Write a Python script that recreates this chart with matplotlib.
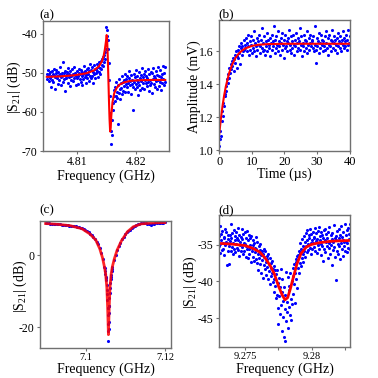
import numpy as np
import matplotlib
matplotlib.use("Agg")
import matplotlib.pyplot as plt

plt.rcParams['font.family'] = ['Liberation Serif', 'DejaVu Serif']
plt.rcParams['mathtext.fontset'] = 'custom'
plt.rcParams['mathtext.rm'] = 'Liberation Serif'
plt.rcParams['mathtext.it'] = 'Liberation Serif:italic'
plt.rcParams['axes.unicode_minus'] = False

BLUE = '#0000ff'
RED = '#ff0000'
FRAME = '#707070'

# ---- (a) Fano-like transmission ----
a_s21 = [
    -50.2, -51.5, -49.3, -50.9, -52.1, -50.4, -49.8, -51.2, -53.6, -50.7,
    -49.5, -51.8, -50.3, -52.4, -48.9, -50.6, -51.1, -54.2, -50.0, -49.2,
    -51.4, -50.8, -52.9, -49.7, -50.5, -51.9, -48.6, -50.2, -53.1, -51.0,
    -49.9, -50.7, -52.3, -47.3, -51.6, -50.1, -49.4, -54.6, -50.9, -51.3,
    -49.8, -50.4, -52.6, -48.8, -51.0, -50.3, -49.6, -53.4, -50.8, -51.7,
    -49.1, -50.5, -52.0, -50.2, -48.4, -51.3, -50.6, -49.9, -53.0, -50.7,
    -51.2, -49.5, -50.9, -52.8, -50.0, -48.9, -51.5, -50.3, -49.2, -52.2,
    -50.8, -53.2, -49.7, -50.4, -51.6, -48.2, -50.1, -51.0, -49.4, -52.5,
    -50.6, -49.0, -51.3, -48.7, -50.2, -52.0, -49.6, -47.8, -50.9, -51.4,
    -49.3, -48.5, -50.7, -52.6, -49.8, -48.1, -50.4, -49.1, -51.2, -48.9,
    -50.0, -47.6, -49.5, -51.1, -48.4, -49.8, -47.2, -50.3, -48.8, -46.9,
    -49.0, -47.9, -46.5, -48.2, -46.0, -47.1, -45.3, -46.4, -44.6, -43.9,
    -38.3, -39.1, -40.6, -41.5, -44.0, -47.5, -51.8, -55.9, -60.2, -64.9,
    -68.3, -65.8, -62.1, -59.5, -57.8, -56.0,
    -54.3, -57.2, -53.6, -55.8, -52.4, -56.5, -54.9, -63.0, -53.1, -55.2,
    -51.6, -54.0, -56.8, -52.7, -53.9, -50.8, -55.4, -52.2, -54.6, -51.9,
    -53.3, -50.4, -55.0, -52.8,
    -51.5, -53.7, -50.9, -52.6, -54.8, -51.2, -49.6, -53.0, -52.1, -55.3,
    -50.5, -52.9, -51.7, -59.4, -53.5, -50.2, -52.4, -54.1, -51.0, -49.3,
    -52.8, -53.6, -50.7, -51.9, -55.6, -52.3, -49.8, -53.2, -51.4, -54.5,
    -50.6, -52.0, -48.7, -53.8, -51.1, -52.7, -50.3, -54.2, -51.8, -49.5,
    -52.5, -50.8, -53.4, -51.3, -49.0, -52.2, -54.7, -50.4, -51.9, -53.1,
    -49.7, -52.6, -50.1, -55.2, -51.5, -48.8, -52.9, -50.7, -53.7, -51.2,
    -49.4, -52.1, -54.0, -50.5, -51.7, -48.5, -53.3, -50.9, -52.4, -49.2,
    -51.0, -54.4, -50.2, -52.7, -48.3, -51.6, -53.0, -49.9, -52.3, -48.6,
]
a_freq = np.linspace(4.8048, 4.8250, len(a_s21))
a_fit_freq = [4.8048, 4.8070, 4.8095, 4.8115, 4.8128, 4.8137, 4.8142, 4.8145,
              4.8147, 4.8149, 4.8150, 4.81505, 4.8151, 4.8152, 4.8153, 4.8154,
              4.8155, 4.8156, 4.8157, 4.8158, 4.8160, 4.8163, 4.8167, 4.8172,
              4.8180, 4.8192, 4.8210, 4.8230, 4.8250]
a_fit_s21 = [-51.0, -50.9, -50.6, -50.1, -49.4, -48.3, -47.0, -45.6,
             -44.0, -41.8, -40.3, -40.5, -42.0, -46.0, -51.5, -57.0,
             -61.8, -65.0, -64.0, -61.0, -57.5, -55.2, -53.9, -53.0,
             -52.4, -52.0, -51.85, -51.8, -51.8]

# ---- (b) ring-up amplitude ----
b_amp = [
    1.03, 1.07, 1.12, 1.09, 1.18, 1.24, 1.21, 1.29, 1.27, 1.34,
    1.33, 1.39, 1.36, 1.43, 1.41, 1.46, 1.44, 1.50, 1.47, 1.52,
    1.49, 1.54, 1.51, 1.56, 1.48, 1.55, 1.58, 1.53, 1.60, 1.57,
    1.50, 1.61, 1.56, 1.63, 1.59, 1.52, 1.62, 1.65, 1.58, 1.63,
    1.60, 1.67, 1.61, 1.64,
    1.62, 1.68, 1.60, 1.65, 1.70, 1.63, 1.58, 1.66, 1.61, 1.69,
    1.64, 1.59, 1.67, 1.62, 1.72, 1.60, 1.65, 1.63, 1.57, 1.68,
    1.61, 1.66, 1.64, 1.70, 1.59, 1.63, 1.67, 1.62, 1.74, 1.60,
    1.65, 1.61, 1.69, 1.58, 1.66, 1.63, 1.71, 1.60, 1.67, 1.64,
    1.62, 1.68, 1.57, 1.65, 1.70, 1.61, 1.66, 1.63, 1.75, 1.59,
    1.67, 1.62, 1.69, 1.64, 1.60, 1.72, 1.63, 1.66, 1.58, 1.68,
    1.65, 1.61, 1.71, 1.64, 1.56, 1.67, 1.62, 1.70, 1.63, 1.66,
    1.60, 1.68, 1.65, 1.73, 1.61, 1.64, 1.69, 1.59, 1.66, 1.62,
    1.70, 1.64, 1.58, 1.67, 1.63, 1.71, 1.60, 1.65, 1.68, 1.62,
    1.66, 1.74, 1.61, 1.64, 1.69, 1.57, 1.65, 1.63, 1.70, 1.60,
    1.67, 1.62, 1.66, 1.72, 1.59, 1.64, 1.68, 1.61, 1.65, 1.70,
    1.63, 1.67, 1.66, 1.62, 1.69, 1.60, 1.75, 1.64, 1.61, 1.53,
    1.68, 1.63, 1.66, 1.71, 1.59, 1.65, 1.62, 1.70, 1.64, 1.67,
    1.60, 1.66, 1.63, 1.69, 1.61, 1.72, 1.65, 1.62, 1.68, 1.58,
    1.64, 1.70, 1.63, 1.67, 1.60, 1.66, 1.73, 1.62, 1.65, 1.69,
    1.61, 1.67, 1.64, 1.59, 1.68, 1.63, 1.71, 1.66, 1.62, 1.69,
    1.65, 1.60, 1.67, 1.64, 1.72, 1.62, 1.68, 1.63, 1.66, 1.70,
    1.61, 1.67, 1.64, 1.73, 1.65, 1.69,
]
b_time = np.linspace(0, 40, len(b_amp))
b_fit_time = [0, 0.5, 1, 1.5, 2, 3, 4, 5, 6, 7, 8, 10, 12, 15, 20, 30, 40]
b_fit_amp = [1.100, 1.192, 1.269, 1.332, 1.385, 1.466, 1.521, 1.560, 1.586,
             1.604, 1.617, 1.632, 1.639, 1.643, 1.645, 1.645, 1.645]

# ---- (c) deep notch ----
c_s21_sweep = [
    8.85, 8.80, 8.82, 8.74, 8.72, 8.70, 8.64, 8.63, 8.57, 8.55,
    8.48, 8.45, 8.38, 8.35, 8.27, 8.24, 8.17, 8.14, 8.05, 7.98,
    7.84, 7.75, 7.60, 7.44, 7.18, 6.97, 6.68, 6.37, 5.98, 5.62,
    5.08, 4.62, 3.78, 3.02, 1.88, 0.62, -1.0, -3.4, -6.3, -14.8,
    -14.2, -6.2, -3.3, -1.4, 0.1, 1.5, 2.6, 3.5, 4.4, 5.1,
    5.8, 6.3, 6.75, 7.1, 7.45, 7.8, 8.1, 8.35, 8.55, 8.75,
    8.85, 8.9, 8.92, 8.85, 8.72, 8.58, 8.52, 8.6, 8.72, 8.8,
    8.9, 8.96, 9.0, 9.05, 9.04, 9.1,
]
c_freq_sweep = np.linspace(7.0898, 7.1200, len(c_s21_sweep))
c_freq_dip = [7.10475, 7.10485, 7.10495, 7.10505, 7.10515, 7.10525, 7.10532,
              7.10538, 7.10544, 7.10550, 7.10555, 7.10560, 7.10565, 7.10570,
              7.10575, 7.10580, 7.10585, 7.10590, 7.10597, 7.10603, 7.10610,
              7.10618, 7.10627, 7.10638, 7.10650, 7.10662]
c_s21_dip = [-3.7, -4.4, -5.1, -6.0, -7.0, -8.4, -9.6,
             -10.9, -12.5, -14.6, -16.6, -19.0, -21.0, -23.8,
             -20.5, -18.6, -16.2, -14.2, -12.0, -10.5, -9.1,
             -7.8, -6.6, -5.5, -4.5, -3.8]
c_fit_freq = [7.0898, 7.0930, 7.0960, 7.0990, 7.1010, 7.1025, 7.1035, 7.1042,
              7.1047, 7.1050, 7.1053, 7.1055, 7.1057, 7.1059, 7.1061, 7.1064,
              7.1067, 7.1072, 7.1079, 7.1090, 7.1105, 7.1120, 7.1140, 7.1170,
              7.1200]
c_fit_s21 = [8.8, 8.55, 8.2, 7.35, 5.9, 4.2, 1.8, -0.7,
             -3.3, -5.3, -9.0, -14.5, -22.1, -14.3, -8.9, -5.2,
             -3.2, -1.0, 1.4, 4.0, 6.5, 7.9, 8.7, 8.95,
             9.05]

# ---- (d) shallow noisy dip ----
d_s21 = [
    -33.8, -35.2, -32.4, -34.9, -36.1, -33.5, -34.3, -35.7, -33.1, -34.8,
    -35.5, -33.9, -36.4, -34.1, -32.9, -35.0, -34.6, -33.3, -37.8, -34.7,
    -35.9, -33.6, -34.2, -37.6, -35.1,
    -33.7, -34.5, -35.8, -32.2, -34.0, -35.3, -33.4, -36.2, -34.8, -33.0,
    -35.6, -34.4, -33.8, -36.0, -34.9, -33.2, -35.4, -34.1, -32.7, -35.7,
    -34.3, -36.5, -33.6, -35.0, -34.6,
    -33.9, -35.8, -34.2, -32.8, -35.3, -36.3, -33.5, -34.7, -35.9, -33.3,
    -34.9, -36.6, -34.0, -35.2, -33.1, -35.6, -36.8, -34.4, -33.7, -35.5,
    -36.2, -34.1, -35.0, -37.3, -33.8, -35.4,
    -35.9, -34.3, -36.6, -35.0, -37.2, -34.8, -36.0, -35.4, -33.9, -36.9,
    -35.6, -37.5, -34.6, -36.3, -38.4, -35.2, -36.8, -35.7, -37.6, -34.9,
    -36.4, -38.9, -35.8, -37.1, -36.2, -39.5, -35.6, -37.8, -36.7, -38.3,
    -35.9, -37.4, -39.1, -36.5, -38.0, -37.0, -39.6, -36.3, -38.6, -37.6,
    -40.4, -36.8, -38.2, -39.3, -37.5,
    -38.8, -37.2, -40.1, -38.3, -41.5, -37.9, -39.7, -40.6, -38.5, -42.3,
    -39.0, -41.8, -38.4, -43.6, -40.2, -45.8, -39.5, -42.0, -44.5, -40.8,
    -38.3, -43.2, -46.7, -41.4, -39.6, -44.9, -42.6, -47.6, -40.7, -43.8,
    -48.1, -41.9, -38.7, -45.4, -42.8, -44.2, -39.4, -46.3, -41.2, -43.5,
    -40.6, -44.6, -38.9, -42.4, -45.2, -40.0, -43.1, -39.2, -41.7, -38.1,
    -40.4, -37.6, -42.9, -38.8, -36.9, -39.7, -37.4, -40.9, -36.5, -38.2,
    -36.4, -38.9, -35.8, -37.5, -36.1, -34.7, -37.9, -35.5, -36.8, -34.2,
    -36.3, -35.2, -37.3, -33.8, -35.9, -34.6, -36.7, -33.4, -35.1, -34.3,
    -36.0, -33.0, -34.9, -35.7, -33.6, -34.1, -35.4, -32.8, -34.7, -36.2,
    -33.5, -34.4, -35.6, -33.2, -34.8,
    -33.9, -35.3, -34.0, -32.7, -35.8, -34.5, -33.4, -36.1, -34.2, -33.1,
    -35.0, -34.7, -32.5, -35.5, -33.8, -34.4, -36.4, -33.3, -34.9, -35.2,
    -33.6, -34.1, -37.2, -33.0, -35.6, -34.3, -32.9, -36.0, -34.6, -33.5,
    -35.1, -34.0, -36.8, -33.2, -34.8, -35.4, -32.6, -34.5, -36.3, -33.7,
    -35.0, -34.2, -37.7, -33.4, -35.7, -34.6, -32.3, -35.3, -34.1, -36.6,
    -33.8, -39.8, -34.4, -35.9, -33.1, -34.9, -36.2, -32.8, -35.2, -34.0,
    -33.6, -36.9, -34.7, -32.4, -35.5, -33.9, -34.3, -36.5, -33.3, -35.1,
    -34.6, -32.1, -35.8, -33.7, -34.5, -36.0, -33.0, -34.8, -35.4, -32.7,
    -34.2, -33.5, -35.6, -32.2,
]
d_freq = np.linspace(9.2730, 9.2829, len(d_s21))
d_fit_freq = [9.2730, 9.2740, 9.2750, 9.2756, 9.2761, 9.2765, 9.2769, 9.2772,
              9.2775, 9.2778, 9.2780, 9.2782, 9.2784, 9.2786, 9.2789, 9.2792,
              9.2796, 9.2800, 9.2806, 9.2815, 9.2829]
d_fit_s21 = [-34.8, -34.9, -35.1, -35.5, -36.0, -36.8, -37.9, -39.0,
             -40.6, -41.9, -42.5, -42.2, -41.0, -39.6, -37.6, -36.2,
             -35.3, -34.95, -34.7, -34.5, -34.4]

S21_LABEL = r'$\mathregular{|S_{21}|}$ (dB)'


def style(ax, ylab_x, xlab_y, xsize=8.5):
    for sp in ax.spines.values():
        sp.set_color(FRAME)
        sp.set_linewidth(1.0)
    ax.tick_params(direction='out', length=2.5, width=0.8, color=FRAME,
                   labelsize=8.5, pad=1.5)
    ax.tick_params(axis='x', labelsize=xsize, pad=1)
    # label anchors
    ax.yaxis.set_label_coords(ylab_x, 0.49)
    ax.xaxis.set_label_coords(0.5, xlab_y)


fig = plt.figure(figsize=(3.78, 3.78), dpi=100)

ax = fig.add_axes([0.113, 0.6005, 0.335, 0.344])
ax.scatter(a_freq, a_s21, s=5, color=BLUE, linewidths=0)
ax.plot(a_fit_freq, a_fit_s21, color=RED, lw=1.5)
ax.set_xlim(4.8041, 4.8257)
ax.set_ylim(-70, -36.7)
ax.set_xticks([4.81, 4.82], ['4.81', '4.82'])
ax.set_yticks([-40, -50, -60, -70])
ax.set_xlabel('Frequency (GHz)', fontsize=10)
ax.set_ylabel(S21_LABEL, fontsize=10)
style(ax, -0.158, -0.146)
fig.text(0.103, 0.952, '(a)', fontsize=9.5)

ax = fig.add_axes([0.580, 0.5997, 0.345, 0.348])
ax.scatter(b_time, b_amp, s=5, color=BLUE, linewidths=0)
ax.plot(b_fit_time, b_fit_amp, color=RED, lw=1.5)
ax.set_xlim(0, 40)
ax.set_ylim(0.995, 1.79)
ax.set_xticks([0, 10, 20, 30, 40])
ax.set_yticks([1.0, 1.2, 1.4, 1.6], ['1.0', '1.2', '1.4', '1.6'])
ax.set_xlabel('Time (\u00b5s)', fontsize=10)
ax.set_ylabel('Amplitude (mV)', fontsize=10)
style(ax, -0.143, -0.120, xsize=9)
fig.text(0.578, 0.955, '(b)', fontsize=9.5)

ax = fig.add_axes([0.106, 0.0794, 0.346, 0.336])
ax.scatter(c_freq_sweep, c_s21_sweep, s=5, color=BLUE, linewidths=0)
ax.scatter(c_freq_dip, c_s21_dip, s=5, color=BLUE, linewidths=0)
ax.plot(c_fit_freq, c_fit_s21, color=RED, lw=2, alpha=0.85)
ax.set_xlim(7.0884, 7.1215)
ax.set_ylim(-25.8, 9.5)
ax.set_xticks([7.1, 7.12], ['7.1', '7.12'])
ax.set_yticks([0, -20])
ax.set_xlabel('Frequency (GHz)', fontsize=10)
ax.set_ylabel(S21_LABEL, fontsize=10)
style(ax, -0.085, -0.118, xsize=7.5)
fig.text(0.103, 0.437, '(c)', fontsize=9.5)

ax = fig.add_axes([0.579, 0.0828, 0.347, 0.348])
ax.scatter(d_freq, d_s21, s=5, color=BLUE, linewidths=0)
ax.plot(d_fit_freq, d_fit_s21, color=RED, lw=2)
ax.set_xlim(9.27301, 9.2829)
ax.set_ylim(-48.9, -30.95)
ax.set_xticks([9.275, 9.2775, 9.28, 9.2825], ['9.275', '', '9.28', ''])
ax.set_yticks([-35, -40, -45])
ax.set_xlabel('Frequency (GHz)', fontsize=10)
ax.set_ylabel(S21_LABEL, fontsize=10)
style(ax, -0.152, -0.122, xsize=7.5)
fig.text(0.578, 0.437, '(d)', fontsize=9.5)

fig.savefig('out.png', dpi=100)
